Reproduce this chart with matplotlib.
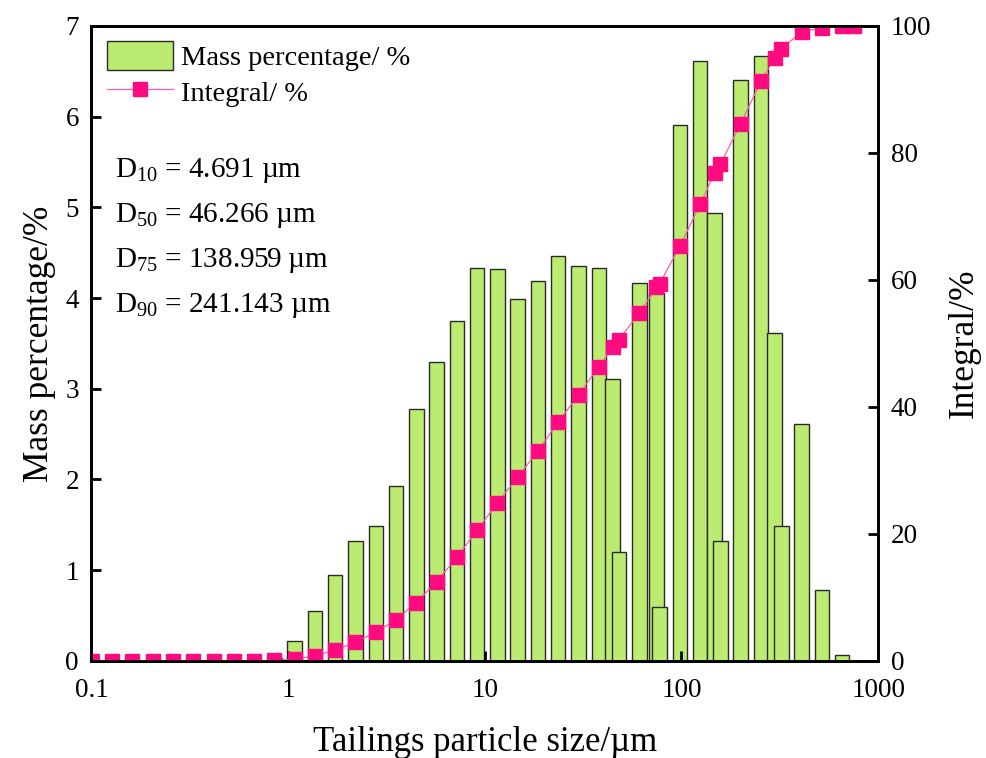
import matplotlib
matplotlib.use('Agg')
import matplotlib.pyplot as plt
import numpy as np

plt.rcParams['font.family'] = ['Liberation Serif', 'DejaVu Serif']
plt.rcParams['mathtext.fontset'] = 'custom'
plt.rcParams['mathtext.rm'] = 'Liberation Serif'
plt.rcParams['mathtext.it'] = 'Liberation Serif'

# particle size classes (um)
size_um = [0.1005, 0.1274, 0.1614, 0.2046, 0.2594, 0.3292, 0.4175, 0.5293, 0.6711, 0.851,
           1.079, 1.368, 1.735, 2.200, 2.789, 3.536, 4.484, 5.684, 7.209, 9.14,
           11.59, 14.69, 18.63, 23.62, 29.95, 37.97, 44.7, 48.15, 61.05, 74.6,
           77.41, 98.15, 124.5, 147.6, 157.8, 200.1, 253.7, 297.3, 321.7, 407.9,
           517.2, 655.8, 750.0]
mass_pct = [0, 0, 0, 0, 0, 0, 0, 0, 0, 0.03,
            0.22, 0.55, 0.95, 1.32, 1.49, 1.93, 2.78, 3.30, 3.75, 4.33,
            4.32, 3.99, 4.19, 4.46, 4.35, 4.33, 3.11, 1.20, 4.17, 4.05,
            0.60, 5.91, 6.61, 4.94, 1.32, 6.40, 6.67, 3.61, 1.49, 2.61,
            0.78, 0.07, 0]
integral_pct = [0, 0, 0, 0, 0, 0, 0, 0, 0, 0.1,
                0.3, 0.8, 1.7, 3.0, 4.5, 6.5, 9.2, 12.5, 16.3, 20.6,
                24.9, 28.9, 33.1, 37.6, 41.9, 46.3, 49.4, 50.6, 54.8, 58.8,
                59.4, 65.3, 71.9, 76.9, 78.2, 84.6, 91.3, 94.9, 96.4, 99.0,
                99.7, 99.9, 100.0]
d_labels = ['10', '50', '75', '90']
d_values = ['4.691', '46.266', '138.959', '241.143']

x_ticks = [0.1, 1, 10, 100, 1000]
x_tick_labels = ['0.1', '1', '10', '100', '1000']

bar_color = '#BBEB70'
pink = '#FF0A7F'

fig = plt.figure(figsize=(9.87, 7.58), dpi=100)
ax = fig.add_axes([0.0927, 0.128, 0.797, 0.838])
ax2 = ax.twinx()

# bars in log space: constant width in decades
x = np.array(size_um)
h = np.array(mass_pct)
keep = h > 0
half = 10 ** 0.0368
bars = ax.bar(x[keep] / half, h[keep], width=x[keep] * half - x[keep] / half, align='edge',
              color=bar_color, edgecolor='#2a2a2a', linewidth=1.0, label='Mass percentage/ %')

line, = ax2.plot(size_um, integral_pct, color='#FF5FAA', lw=0.9, marker='s', markersize=9.4,
                 markerfacecolor=pink, markeredgecolor=pink, label='Integral/ %')

ax.set_xscale('log')
ax.set_xlim(0.1, 1000)
ax.set_ylim(0, 7)
ax2.set_ylim(0, 100)
ax.set_xticks(x_ticks)
ax.set_xticklabels(x_tick_labels)
ax.xaxis.set_minor_locator(matplotlib.ticker.NullLocator())
ax.set_yticks(range(0, 8))
ax2.set_yticks(range(0, 101, 20))

for a in (ax, ax2):
    for s in a.spines.values():
        s.set_linewidth(2.0)
    a.tick_params(direction='in', length=7, width=2, labelsize=19.5, pad=9)
ax.tick_params(axis='x', pad=12)

ax.set_xlabel('Tailings particle size/µm', fontsize=25, labelpad=17)
ax.set_ylabel('Mass percentage/%', fontsize=25.5, labelpad=7)
ax2.set_ylabel('Integral/%', fontsize=25.5, labelpad=12)

ax.legend([bars, line], ['Mass percentage/ %', 'Integral/ %'], loc='upper left',
          bbox_to_anchor=(0.0197, 0.976), borderpad=0, borderaxespad=0, frameon=False,
          fontsize=20.5, handlelength=2.32, handleheight=1.2, handletextpad=0.28,
          labelspacing=0.2)

for i, (lab, val) in enumerate(zip(d_labels, d_values)):
    ax.text(0.030, 0.762 - i * 0.071, 'D$_{\\mathrm{%s}}$ = %s µm' % (lab, val),
            transform=ax.transAxes, fontsize=21, va='baseline', ha='left')

fig.savefig('out.png', dpi=100)
